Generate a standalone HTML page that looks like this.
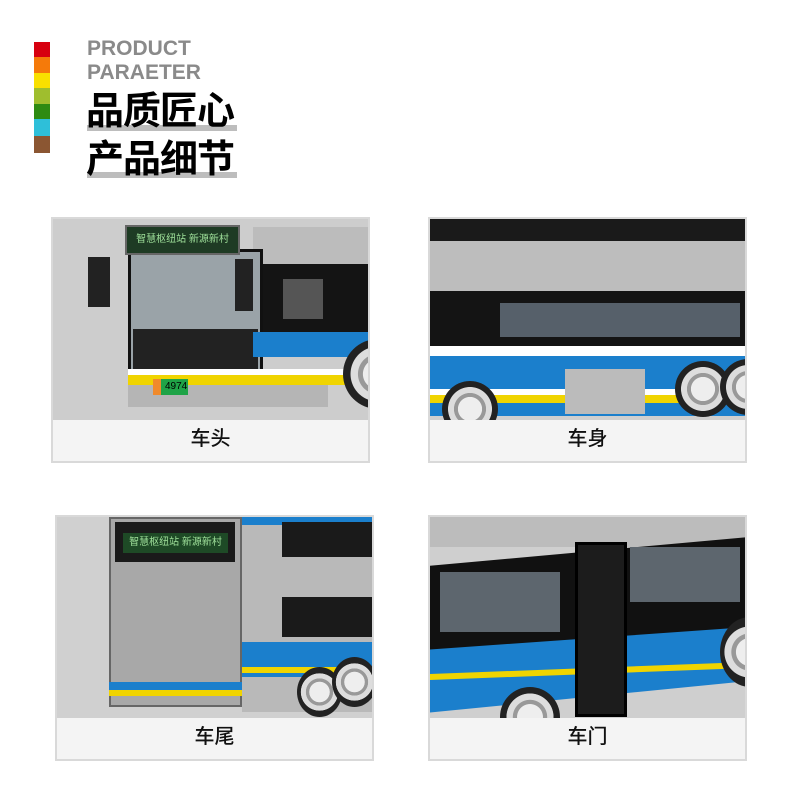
<!DOCTYPE html>
<html><head><meta charset="utf-8"><style>
*{margin:0;padding:0;box-sizing:border-box}
body{width:800px;height:800px;background:#fff;position:relative;overflow:hidden;font-family:"Liberation Sans","Noto Sans CJK SC",sans-serif}
.a{position:absolute}
.panel{position:absolute;border:2px solid #d9d9d9;background:#f4f4f4;overflow:hidden}
.img{position:absolute;left:0;top:0;right:0;overflow:hidden;background:#cdcdcd}
.cap{position:absolute;left:0;right:0;bottom:0;height:44px;text-align:center;line-height:44px;font-size:20px;color:#111;font-weight:500}
.wheel{position:absolute;border-radius:50%;background:radial-gradient(circle,#eee 0 30%,#999 31% 40%,#ddd 41% 55%,#222 56% 100%)}
</style></head><body>
<div class="a" style="left:34px;top:42px;width:16px;height:111px">
<div style="height:15px;background:#d7000f"></div><div style="height:16px;background:#f57a0a"></div><div style="height:15px;background:#f9e000"></div><div style="height:16px;background:#9fbe2e"></div><div style="height:15px;background:#2e8b12"></div><div style="height:17px;background:#2ebfd9"></div><div style="height:17px;background:#8b5632"></div>
</div>
<div class="a" style="left:87px;top:37px;font-size:21px;font-weight:bold;color:#8a8a8a;line-height:24px">PRODUCT<br>PARAETER</div>
<div class="a" style="left:87px;top:125px;width:150px;height:6px;background:#bdbdbd"></div>
<div class="a" style="left:87px;top:172px;width:150px;height:6px;background:#bdbdbd"></div>
<div class="a" style="left:86px;top:88px;font-size:38px;font-weight:bold;color:#000;line-height:48px;letter-spacing:-1px">品质匠心<br>产品细节</div>

<!-- panel 1 -->
<div class="panel" style="left:51px;top:217px;width:319px;height:246px">
<div class="img" style="height:201px">
 <div class="a" style="left:200px;top:8px;width:120px;height:40px;background:#bcbcbc"></div>
 <div class="a" style="left:205px;top:45px;width:115px;height:68px;background:#141414"></div>
 <div class="a" style="left:230px;top:60px;width:40px;height:40px;background:#555"></div>
 <div class="a" style="left:75px;top:30px;width:135px;height:130px;background:#9aa3a8;border:3px solid #111"></div>
 <div class="a" style="left:80px;top:110px;width:125px;height:45px;background:#222"></div>
 <div class="a" style="left:200px;top:113px;width:120px;height:25px;background:#1b7fcc"></div>
 <div class="a" style="left:75px;top:150px;width:245px;height:6px;background:#fff"></div>
 <div class="a" style="left:75px;top:156px;width:245px;height:10px;background:#f0d400"></div>
 <div class="a" style="left:75px;top:166px;width:200px;height:22px;background:#b5b5b5"></div>
 <div class="a" style="left:72px;top:6px;width:115px;height:30px;background:#1e3b24;border:2px solid #666;color:#9fe09a;font-size:10px;line-height:26px;text-align:center">智慧枢纽站 新源新村</div>
 <div class="a" style="left:35px;top:38px;width:22px;height:50px;background:#222"></div>
 <div class="a" style="left:182px;top:40px;width:18px;height:52px;background:#222"></div>
 <div class="a" style="left:100px;top:160px;width:35px;height:16px;background:#1fa347;color:#000;font-size:10px;line-height:16px;padding-left:4px;border-left:8px solid #f08a2c">4974</div>
 <div class="wheel" style="left:290px;top:120px;width:70px;height:70px"></div>
</div>
<div class="cap">车头</div>
</div>

<!-- panel 2 -->
<div class="panel" style="left:428px;top:217px;width:319px;height:246px">
<div class="img" style="height:201px;background:#cfcfcf">
 <div class="a" style="left:0;top:0;width:319px;height:22px;background:#1a1a1a"></div>
 <div class="a" style="left:0;top:22px;width:319px;height:50px;background:#bdbdbd"></div>
 <div class="a" style="left:0;top:72px;width:319px;height:55px;background:#141414"></div>
 <div class="a" style="left:70px;top:84px;width:240px;height:34px;background:#56606a"></div>
 <div class="a" style="left:0;top:127px;width:319px;height:10px;background:#fff"></div>
 <div class="a" style="left:0;top:137px;width:319px;height:60px;background:#1b7fcc"></div>
 <div class="a" style="left:0;top:170px;width:319px;height:6px;background:#fff"></div>
 <div class="a" style="left:0;top:176px;width:319px;height:8px;background:#f0d400"></div>
 <div class="a" style="left:135px;top:150px;width:80px;height:45px;background:#bbb"></div>
 <div class="wheel" style="left:12px;top:162px;width:56px;height:56px"></div>
 <div class="wheel" style="left:245px;top:142px;width:56px;height:56px"></div>
 <div class="wheel" style="left:290px;top:140px;width:56px;height:56px"></div>
</div>
<div class="cap">车身</div>
</div>

<!-- panel 3 -->
<div class="panel" style="left:55px;top:515px;width:319px;height:246px">
<div class="img" style="height:201px;background:#d0d0d0">
 <div class="a" style="left:185px;top:0;width:134px;height:195px;background:#b9b9b9"></div>
 <div class="a" style="left:185px;top:0;width:134px;height:8px;background:#1b7fcc"></div>
 <div class="a" style="left:225px;top:5px;width:94px;height:35px;background:#1a1a1a"></div>
 <div class="a" style="left:225px;top:80px;width:94px;height:40px;background:#1a1a1a"></div>
 <div class="a" style="left:185px;top:125px;width:134px;height:35px;background:#1b7fcc"></div>
 <div class="a" style="left:185px;top:150px;width:134px;height:6px;background:#f0d400"></div>
 <div class="a" style="left:52px;top:0;width:133px;height:190px;background:#a8a8a8;border:2px solid #666"></div>
 <div class="a" style="left:58px;top:5px;width:120px;height:40px;background:#1a1a1a"></div>
 <div class="a" style="left:66px;top:16px;width:105px;height:20px;background:#1e4a26;color:#9fe09a;font-size:10px;line-height:20px;text-align:center">智慧枢纽站 新源新村</div>
 <div class="a" style="left:52px;top:165px;width:133px;height:8px;background:#1b7fcc"></div>
 <div class="a" style="left:52px;top:173px;width:133px;height:6px;background:#f0d400"></div>
 <div class="wheel" style="left:240px;top:150px;width:45px;height:50px"></div>
 <div class="wheel" style="left:275px;top:140px;width:45px;height:50px"></div>
</div>
<div class="cap">车尾</div>
</div>

<!-- panel 4 -->
<div class="panel" style="left:428px;top:515px;width:319px;height:246px">
<div class="img" style="height:201px;background:#cfcfcf">
 <div class="a" style="left:0;top:0;width:319px;height:30px;background:#bcbcbc"></div>
 <div class="a" style="left:0;top:20px;width:319px;height:115px;background:#111;clip-path:polygon(0 25%,100% 0,100% 80%,0 100%)"></div>
 <div class="a" style="left:10px;top:55px;width:120px;height:60px;background:#5d666e"></div>
 <div class="a" style="left:200px;top:30px;width:110px;height:55px;background:#5d666e"></div>
 <div class="a" style="left:0;top:110px;width:319px;height:90px;background:#1b7fcc;clip-path:polygon(0 25%,100% 0,100% 60%,0 95%)"></div>
 <div class="a" style="left:0;top:145px;width:319px;height:20px;background:#f0d400;clip-path:polygon(0 60%,100% 0,100% 30%,0 90%)"></div>
 <div class="a" style="left:145px;top:25px;width:52px;height:175px;background:#1c1c1c;border:3px solid #000"></div>
 <div class="wheel" style="left:70px;top:170px;width:60px;height:60px"></div>
 <div class="wheel" style="left:290px;top:100px;width:60px;height:70px"></div>
</div>
<div class="cap">车门</div>
</div>
</body></html>
